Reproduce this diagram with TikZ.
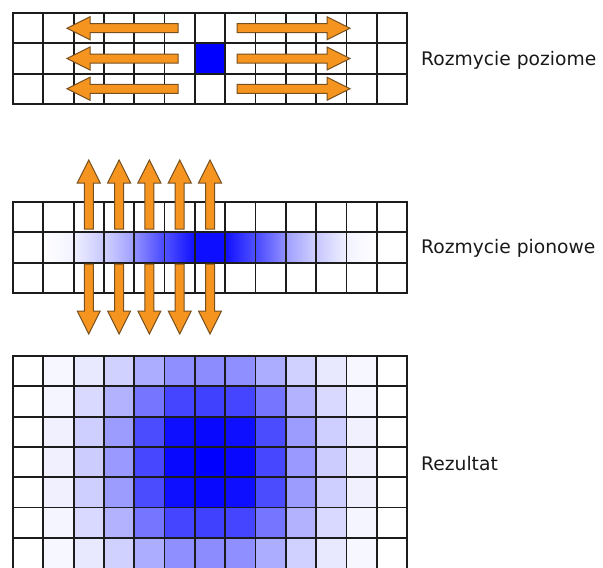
\documentclass[tikz,border=0pt]{standalone}
\usepackage{fontspec}
\setmainfont{DejaVu Sans}
\definecolor{gridink}{RGB}{28,28,28}
\definecolor{arrowfill}{RGB}{245,148,30}
\definecolor{arrowedge}{RGB}{120,80,32}
\definecolor{pixblue}{RGB}{0,0,255}
\begin{document}
\begin{tikzpicture}[x=1pt,y=-1pt,
  gridline/.style={line width=1.8pt, draw=gridink, line cap=rect},
  arrowbody/.style={fill=arrowfill, draw=arrowedge, line width=1pt, line join=miter},
  caption/.style={anchor=base west, inner sep=0pt, text=black!90,
                  font=\fontsize{18.7}{22}\selectfont},
  pics/blockarrow/.style={code={
    \draw[arrowbody] (0,-4.5) -- ({#1-23},-4.5) -- ({#1-23},-11.5) -- (#1,0)
      -- ({#1-23},11.5) -- ({#1-23},4.5) -- (0,4.5) -- cycle;
  }}]
\useasboundingbox (0,0) rectangle (603,568);
\def\cw{30.31}
\def\rh{30.3}
\def\gx{13}

% ---------- horizontal pass: single source pixel ----------
\fill[pixblue] ({\gx+6*\cw},{13+\rh}) rectangle ({\gx+7*\cw},{13+2*\rh});
\foreach \i in {0,...,13}
  \draw[gridline] ({\gx+\i*\cw},13) -- ({\gx+\i*\cw},{13+3*\rh});
\foreach \j in {0,...,3}
  \draw[gridline] (\gx,{13+\j*\rh}) -- ({\gx+13*\cw},{13+\j*\rh});
\foreach \yy in {28.2,58.5,88.8} {
  \pic[rotate=180] at (178,\yy) {blockarrow=111};
  \pic at (237,\yy) {blockarrow=113};
}
\node[caption] (lblH) at (421,65) {Rozmycie poziome};

% ---------- vertical pass: blurred row ----------
\def\leftv{{0,0,6,18,43,68,95,94,72,38,22,5,0}}
\def\rightv{{0,5,22,38,72,94,95,68,43,18,6,0,0}}
\foreach \c in {0,...,12} {
  \pgfmathtruncatemacro\lv{\leftv[\c]}
  \pgfmathtruncatemacro\rv{\rightv[\c]}
  \ifnum\c=6
    \shade[left color=pixblue!\lv!white, middle color=pixblue, right color=pixblue!\rv!white]
      ({\gx+\c*\cw},{202+\rh}) rectangle ({\gx+(\c+1)*\cw},{202+2*\rh});
  \else
    \shade[left color=pixblue!\lv!white, right color=pixblue!\rv!white]
      ({\gx+\c*\cw},{202+\rh}) rectangle ({\gx+(\c+1)*\cw},{202+2*\rh});
  \fi
}
\foreach \i in {0,...,13}
  \draw[gridline] ({\gx+\i*\cw},202) -- ({\gx+\i*\cw},{202+3*\rh});
\foreach \j in {0,...,3}
  \draw[gridline] (\gx,{202+\j*\rh}) -- ({\gx+13*\cw},{202+\j*\rh});
\foreach \k in {2,...,6} {
  \pic[rotate=90] at ({\gx+(\k+0.5)*\cw},229) {blockarrow=69};
  \pic[rotate=-90] at ({\gx+(\k+0.5)*\cw},264) {blockarrow=70};
}
\node[caption] (lblV) at (421,253) {Rozmycie pionowe};

% ---------- result: separable blur ----------
\def\wxarr{{0,0.06,0.2,0.4,0.72,0.97,1,0.97,0.72,0.4,0.2,0.06,0}}
\def\wyarr{{0.45,0.75,0.97,1,0.97,0.75,0.45}}
\foreach \r in {0,...,6}
  \foreach \c in {0,...,12} {
    \pgfmathtruncatemacro\v{round(100*\wxarr[\c]*\wyarr[\r])}
    \fill[pixblue!\v!white] ({\gx+\c*\cw},{356+\r*\rh}) rectangle ({\gx+(\c+1)*\cw},{356+(\r+1)*\rh});
  }
\foreach \i in {0,...,13}
  \draw[gridline] ({\gx+\i*\cw},356) -- ({\gx+\i*\cw},570);
\foreach \j in {0,...,6}
  \draw[gridline] (\gx,{356+\j*\rh}) -- ({\gx+13*\cw},{356+\j*\rh});
\node[caption] (lblR) at (421,470) {Rezultat};
\end{tikzpicture}
\end{document}
